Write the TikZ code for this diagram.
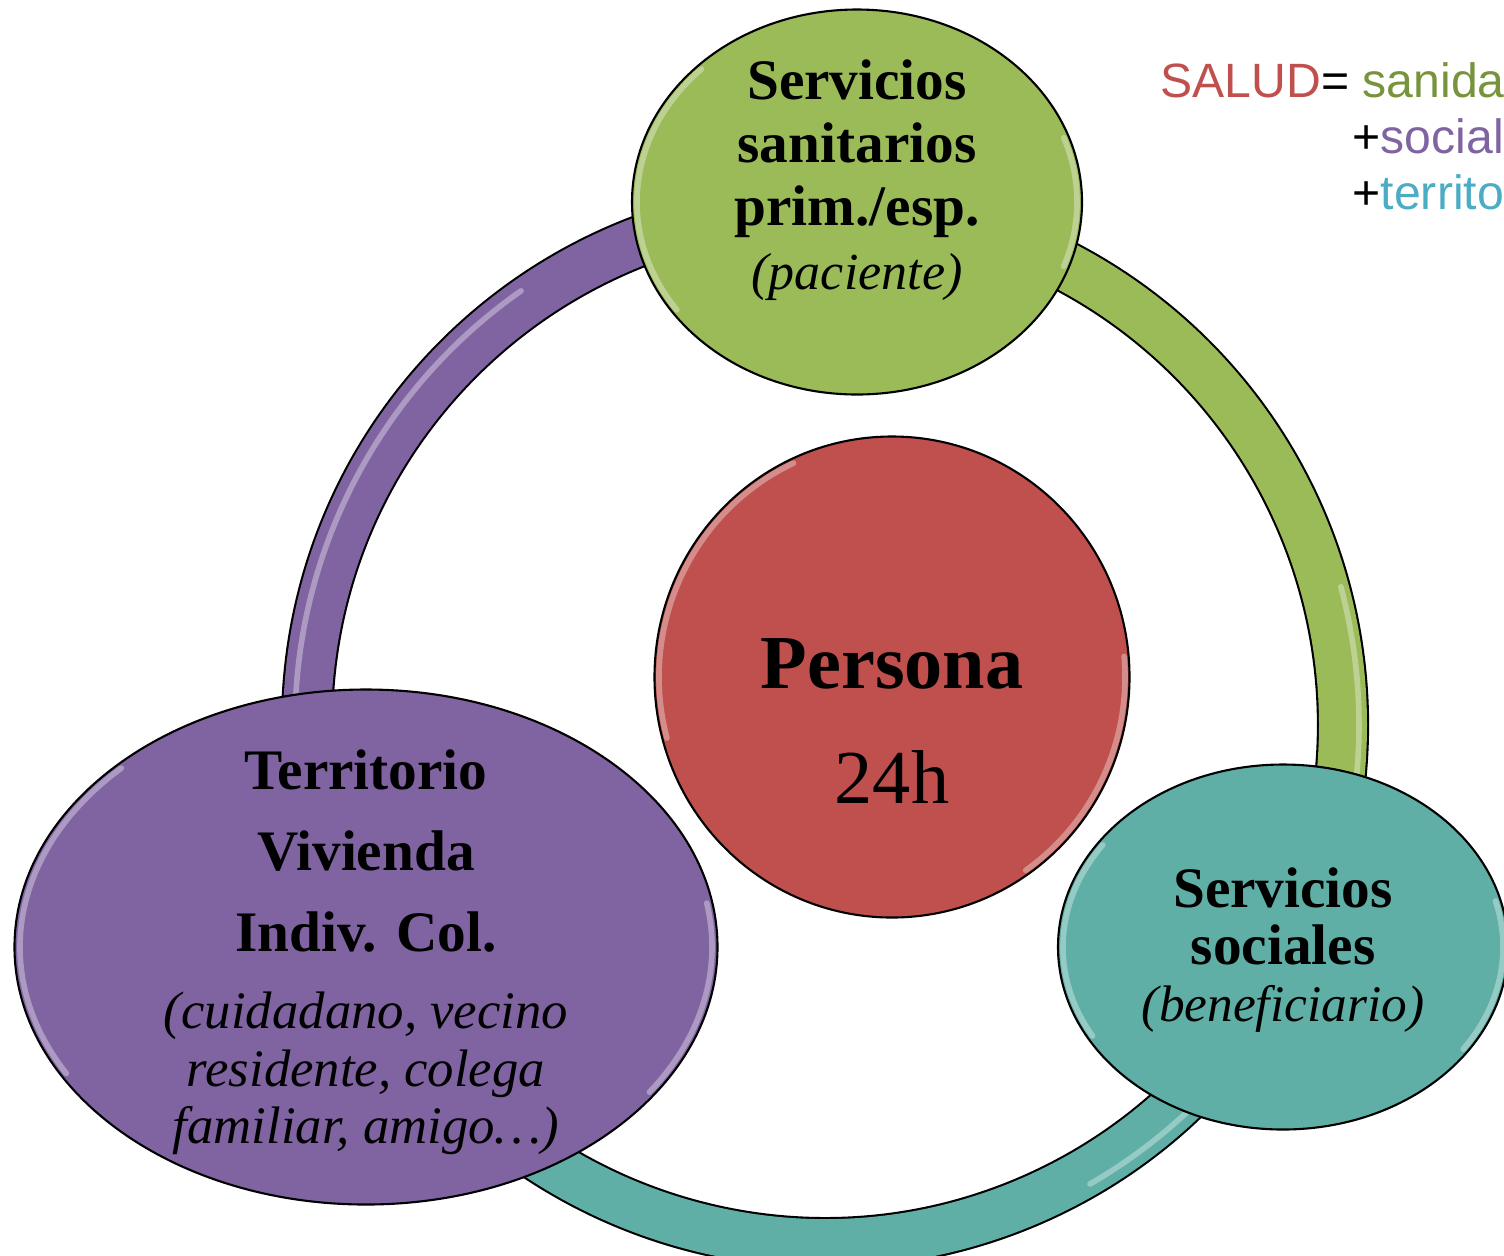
\documentclass[tikz,border=0pt]{standalone}
\usepackage{fontspec}
\usetikzlibrary{shapes.geometric}

\setmainfont{Liberation Serif}
\newfontfamily\arialf{Liberation Sans}

\definecolor{grnC}{RGB}{155,187,89}
\definecolor{redC}{RGB}{192,80,77}
\definecolor{purC}{RGB}{128,100,162}
\definecolor{tealC}{RGB}{95,175,166}
\definecolor{oliveT}{RGB}{119,147,60}
\definecolor{aquaT}{RGB}{75,172,198}

% light rim on a shape: node, x radius, y radius, from, to
\newcommand{\shine}[5]{%
  \draw[glint] ([shift={(#4:#2 and #3)}]#1.center) arc[start angle=#4, end angle=#5, x radius=#2, y radius=#3];}

\begin{document}
\begin{tikzpicture}[
    blob/.style={ellipse, draw=black, line width=0.6pt, inner sep=0pt},
    ringarc/.style={draw=black, line width=0.6pt, double=#1, double distance=0.48cm},
    glint/.style={draw=white, line width=1.6pt, opacity=0.35, line cap=round},
    lbl/.style={align=center, inner sep=0pt, text=black},
    eqn/.style={anchor=base west, inner sep=0pt, font=\arialf\fontsize{13.7}{16}\selectfont}]
\useasboundingbox (0,0) rectangle (15.04,-12.55);

% ring
\coordinate (hub) at (8.25,-7.25);
\draw[ringarc=purC] (hub) ++(86:5.18) arc[start angle=86, end angle=206, radius=5.18];
\draw[ringarc=grnC] (hub) ++(-26:5.18) arc[start angle=-26, end angle=86, radius=5.18];
\draw[ringarc=tealC] (hub) ++(206:5.18) arc[start angle=206, end angle=334, radius=5.18];
\draw[glint] (hub) ++(125:5.30) arc[start angle=125, end angle=185, radius=5.30];
\draw[glint] (hub) ++(-15:5.34) arc[start angle=-15, end angle=15, radius=5.34];
\draw[glint] (hub) ++(300:5.30) arc[start angle=300, end angle=318, radius=5.30];

% shapes
\node[blob, fill=grnC, minimum width=4.50cm, minimum height=3.85cm] (grn) at (8.57,-2.02) {};
\node[blob, fill=redC, minimum width=4.75cm, minimum height=4.81cm] (per) at (8.92,-6.77) {};
\node[blob, fill=purC, minimum width=7.03cm, minimum height=5.15cm] (pur) at (3.66,-9.47) {};
\node[blob, fill=tealC, minimum width=4.50cm, minimum height=3.65cm] (tea) at (12.83,-9.47) {};
\shine{grn}{2.20}{1.88}{135}{215}
\shine{grn}{2.20}{1.88}{-20}{20}
\shine{per}{2.33}{2.36}{115}{195}
\shine{per}{2.33}{2.36}{-55}{5}
\shine{pur}{3.46}{2.53}{135}{210}
\shine{pur}{3.46}{2.53}{-35}{10}
\shine{tea}{2.20}{1.78}{145}{210}
\shine{tea}{2.20}{1.78}{-35}{15}

% texts
\node[lbl, anchor=north, font=\bfseries\fontsize{16.3}{18}\selectfont] (grntxt) at (8.57,-0.59)
  {Servicios\\sanitarios\\prim./esp.\\{\mdseries\itshape\fontsize{14.8}{18}\selectfont (paciente)}};
\node[lbl, anchor=north, font=\fontsize{21.7}{32.7}\selectfont] (pertxt) at (8.92,-6.38)
  {\textbf{Persona}\\24h};
\node[lbl, anchor=north, font=\bfseries\fontsize{16.3}{23}\selectfont] (purtxt) at (3.66,-7.49)
  {Territorio\\Vivienda\\Indiv. Col.\\[-1pt]
   {\mdseries\itshape\fontsize{15}{16}\selectfont (cuidadano, vecino}\\[-6.6pt]
   {\mdseries\itshape\fontsize{15}{16}\selectfont residente, colega}\\[-6.6pt]
   {\mdseries\itshape\fontsize{15}{16}\selectfont familiar, amigo\dots)}};
\node[lbl, anchor=north, font=\bfseries\fontsize{16.3}{16.2}\selectfont] (teatxt) at (12.83,-8.67)
  {Servicios\\sociales\\{\mdseries\itshape\fontsize{14.6}{16.2}\selectfont (beneficiario)}};

\node[eqn] (salud) at (11.60,-0.97) {\textcolor{redC}{SALUD}= \textcolor{oliveT}{sanidad}};
\node[eqn] (social) at (13.52,-1.53) {+\textcolor{purC}{social}};
\node[eqn] (territ) at (13.52,-2.09) {+\textcolor{aquaT}{territorio}};
\end{tikzpicture}
\end{document}
